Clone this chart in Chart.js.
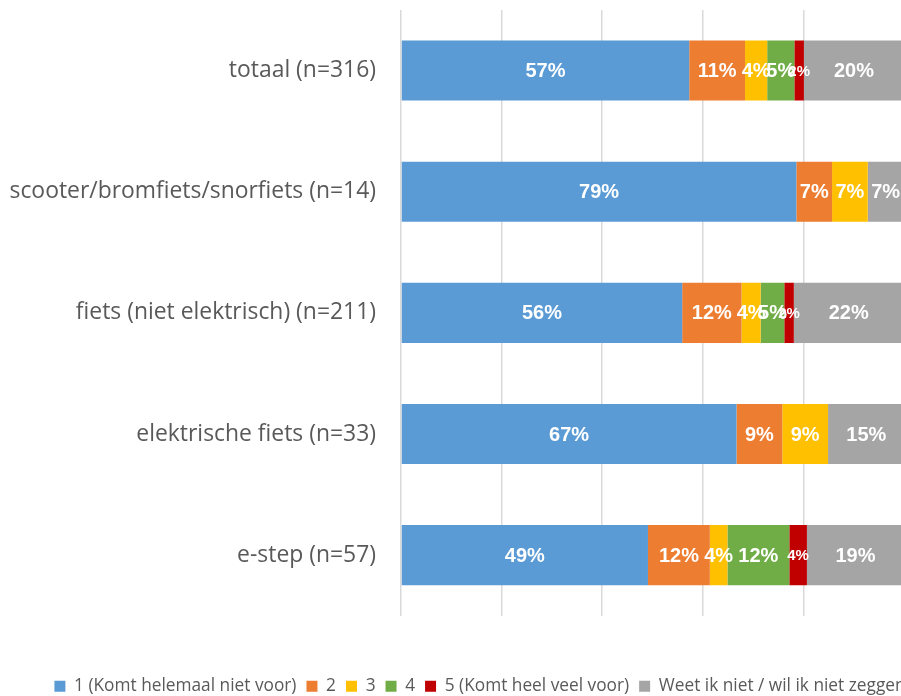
<!DOCTYPE html>
<html>
<head>
<meta charset="utf-8">
<script src="https://cdn.jsdelivr.net/npm/chart.js@4.4.1/dist/chart.umd.min.js"></script>
<style>
  html, body { margin: 0; padding: 0; overflow: hidden; background: #fff; }
  #wrap { width: 960px; height: 705px; }
</style>
</head>
<body>
<div id="wrap"><canvas id="c" width="960" height="705"></canvas></div>
<script>
const categories = [
  'totaal (n=316)',
  'scooter/bromfiets/snorfiets (n=14)',
  'fiets (niet elektrisch) (n=211)',
  'elektrische fiets (n=33)',
  'e-step (n=57)'
];
const seriesNames = [
  '1 (Komt helemaal niet voor)', '2', '3', '4', '5 (Komt heel veel voor)',
  'Weet ik niet / wil ik niet zeggen'
];
const s1 = [57.3, 78.6, 55.9, 66.7, 49.1];
const s2 = [11.1, 7.1, 11.8, 9.1, 12.3];
const s3 = [4.4, 7.1, 3.8, 9.1, 3.5];
const s4 = [5.4, 0, 4.7, 0, 12.3];
const s5 = [1.9, 0, 1.9, 0, 3.5];
const sDk = [19.9, 7.1, 21.8, 15.2, 19.3];
const xTicks = [0, 20, 40, 60, 80, 100];

const colors = ['#5B9BD5', '#ED7D31', '#FFC000', '#70AD47', '#C00000', '#A5A5A5'];
const seriesData = [s1, s2, s3, s4, s5, sDk];

const datasets = seriesData.map((d, i) => ({
  label: seriesNames[i],
  data: d,
  backgroundColor: colors[i],
  borderWidth: 0,
  categoryPercentage: 0.496,
  barPercentage: 1.0
}));

const labelPlugin = {
  id: 'segLabels',
  afterDatasetsDraw(chart) {
    const ctx = chart.ctx;
    ctx.save();
    ctx.fillStyle = '#ffffff';
    ctx.textAlign = 'center';
    ctx.textBaseline = 'middle';
    chart.data.datasets.forEach((ds, di) => {
      const meta = chart.getDatasetMeta(di);
      const size = di === 4 ? 15 : 20;
      ctx.font = 'bold ' + size + 'px "Liberation Sans", Arial, sans-serif';
      meta.data.forEach((bar, i) => {
        const v = ds.data[i];
        if (!v) return;
        const cx = (bar.x + bar.base) / 2;
        ctx.fillText(Math.round(v) + '%', cx, bar.y + 1);
      });
    });
    ctx.restore();
  }
};

const legendShift = {
  id: 'legendShift',
  afterLayout(chart) {
    const lg = chart.legend;
    if (lg) { lg.left += 28; lg.right += 28; }
  }
};

new Chart(document.getElementById('c'), {
  type: 'bar',
  data: { labels: categories, datasets },
  options: {
    indexAxis: 'y',
    responsive: false,
    animation: false,
    layout: { padding: { top: 10, right: 56, left: 0, bottom: 0 } },
    scales: {
      x: {
        stacked: true,
        min: 0, max: 100,
        afterBuildTicks(s) { s.ticks = xTicks.map(v => ({ value: v })); },
        ticks: { display: false },
        grid: { color: '#D9D9D9', lineWidth: 1.5, drawTicks: false },
        border: { display: false },
        afterFit(s) { s.height = 52; s.paddingLeft = 0; s.paddingRight = 0; }
      },
      y: {
        stacked: true,
        grid: { display: false, drawTicks: false },
        border: { display: false },
        ticks: {
          padding: 25,
          color: '#595959',
          font: { family: '"Open Sans", sans-serif', size: 22.9 }
        },
        afterFit(s) { s.width = 401; s.paddingTop = 0; s.paddingBottom = 0; }
      }
    },
    plugins: {
      legend: {
        position: 'bottom',
        labels: {
          boxWidth: 11, boxHeight: 11, padding: 10,
          color: '#595959',
          font: { family: '"Open Sans", sans-serif', size: 17.3 }
        }
      },
      tooltip: { enabled: false }
    }
  },
  plugins: [labelPlugin, legendShift]
});
</script>
</body>
</html>
